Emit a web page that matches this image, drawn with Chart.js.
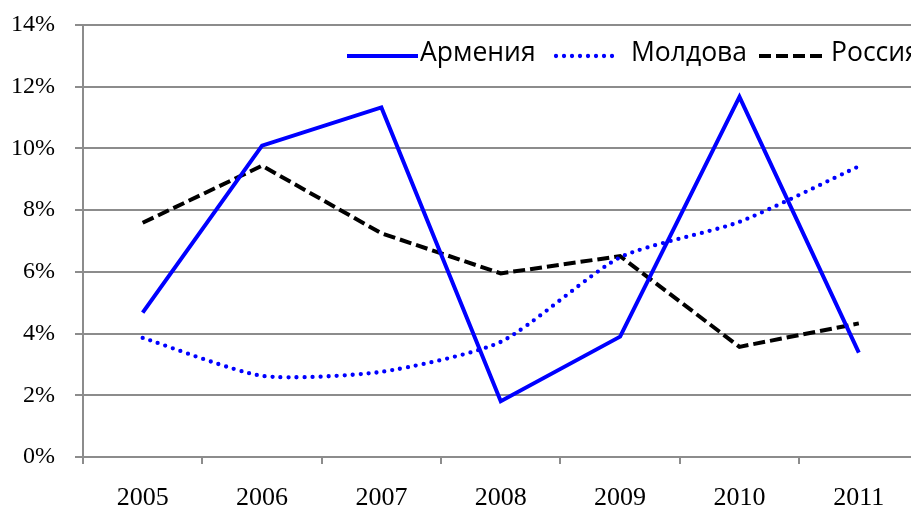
<!DOCTYPE html>
<html><head><meta charset="utf-8">
<script src="https://cdn.jsdelivr.net/npm/chart.js@4/dist/chart.umd.min.js"></script>
<style>
html,body{margin:0;padding:0;background:#fff;overflow:hidden;}
#wrap{width:930px;height:510px;}
</style>
</head><body>
<div id="wrap"><canvas id="c" width="930" height="510"></canvas></div>
<script>
const categories = ['2005','2006','2007','2008','2009','2010','2011'];
const armenia = [4.68, 10.09, 11.33, 1.81, 3.90, 11.67, 3.38];
const moldova = [3.86, 2.63, 2.76, 3.73, 6.47, 7.62, 9.42];
const russia  = [7.59, 9.44, 7.25, 5.95, 6.51, 3.57, 4.33];
const seriesNames = ['Армения', 'Молдова', 'Россия'];
const yMin = 0, yMax = 14, yStep = 2;

const GRID = '#8c8c8c';
const serif = 'Liberation Serif';

const legendLayout = [
  {x1: 347, x2: 418, tx: 420},
  {x1: 556, x2: 618, tx: 631},
  {x1: 759, x2: 822, tx: 831}
];

const legendPlugin = {
  id: 'customLegend',
  afterDraw(chart) {
    const ctx = chart.ctx;
    const y = 56;
    chart.data.datasets.forEach((ds, i) => {
      const L = legendLayout[i];
      ctx.save();
      ctx.strokeStyle = ds.borderColor;
      ctx.lineWidth = ds.borderWidth;
      ctx.lineCap = ds.borderCapStyle || 'butt';
      ctx.setLineDash(ds.borderDash || []);
      ctx.beginPath();
      ctx.moveTo(L.x1, y);
      ctx.lineTo(L.x2, y);
      ctx.stroke();
      ctx.setLineDash([]);
      ctx.fillStyle = '#000';
      ctx.font = '26.5px "Open Sans"';
      ctx.textBaseline = 'alphabetic';
      ctx.textAlign = 'left';
      ctx.fillText(ds.label, L.tx, 60.5);
      ctx.restore();
    });
  }
};

new Chart(document.getElementById('c'), {
  type: 'line',
  data: {
    labels: categories,
    datasets: [
      {label: seriesNames[0], data: armenia, borderColor: '#0000ff', borderWidth: 4,
       pointRadius: 0, tension: 0, fill: false, borderJoinStyle: 'miter'},
      {label: seriesNames[1], data: moldova, borderColor: '#0000ff', borderWidth: 4.3,
       borderDash: [0, 8], borderCapStyle: 'round', pointRadius: 0, tension: 0.22, fill: false},
      {label: seriesNames[2], data: russia, borderColor: '#000000', borderWidth: 4,
       borderDash: [12, 5], pointRadius: 0, tension: 0, fill: false}
    ]
  },
  options: {
    responsive: false,
    devicePixelRatio: 1,
    animation: false,
    layout: {padding: {left: 0, top: 25, right: 11.5, bottom: 0}},
    plugins: {legend: {display: false}, tooltip: {enabled: false}},
    scales: {
      x: {
        type: 'category',
        offset: true,
        grid: {offset: true, drawOnChartArea: false, drawTicks: true, tickLength: 7, color: GRID, lineWidth: 2},
        border: {display: true, color: GRID, width: 2},
        ticks: {font: {family: serif, size: 26}, color: '#000', padding: 19, maxRotation: 0, autoSkip: false},
        afterFit(s) { s.height = 53; s.paddingLeft = 0; s.paddingRight = 0; }
      },
      y: {
        min: yMin, max: yMax,
        grid: {drawTicks: true, tickLength: 8, color: GRID, lineWidth: 2},
        border: {display: true, color: GRID, width: 2},
        ticks: {stepSize: yStep, font: {family: serif, size: 24}, color: '#000', padding: 20,
                callback: v => v + '%'},
        afterFit(s) { s.width = 83; s.paddingTop = 0; s.paddingBottom = 0; }
      }
    }
  },
  plugins: [legendPlugin]
});
</script>
</body></html>
